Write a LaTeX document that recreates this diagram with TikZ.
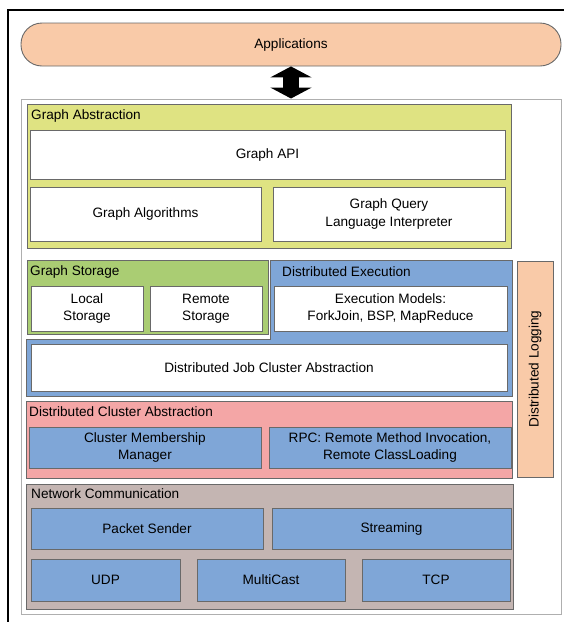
\documentclass[tikz,border=0pt]{standalone}
\usepackage{fontspec}
\setmainfont{Liberation Sans}
\usepackage{tikz}
\usetikzlibrary{arrows.meta}
\definecolor{line_gray}{RGB}{105,105,105}
\definecolor{frame_gray}{RGB}{175,175,175}
\definecolor{app_orange}{RGB}{249,202,168}
\definecolor{abs_yellow}{RGB}{223,227,130}
\definecolor{store_green}{RGB}{170,205,115}
\definecolor{exec_blue}{RGB}{127,166,215}
\definecolor{clus_red}{RGB}{244,166,166}
\definecolor{net_brown}{RGB}{196,181,178}

\begin{document}
\begin{tikzpicture}[x=1pt,y=-1pt,font=\fontsize{13.6}{17.5}\selectfont,
    wh/.style 2 args={minimum width=#1pt,minimum height=#2pt}]
    \tikzstyle{box}=[draw=line_gray, line width=0.9pt, rectangle, inner sep=0pt, align=center, text=black]
    \tikzstyle{wbox}=[style=box, fill=white]
    \tikzstyle{bbox}=[style=box, fill=exec_blue]
    \tikzstyle{layer}=[style=box]
    \tikzstyle{title}=[anchor=west, inner sep=0pt, text=black]
    \tikzstyle{dbl}=[line width=16pt, {Triangle[length=11pt,width=41pt]}-{Triangle[length=11pt,width=41pt]}]

    \useasboundingbox (0,0) rectangle (564,622);
    \draw[line width=2.5pt] (8,630) -- (8,10) -- (570,10);

    \node[box, fill=app_orange, rounded corners=21pt, wh={540}{43}] (app) at (291,44.5) {Applications};
    \node[draw=frame_gray, line width=1pt, wh={540}{515}] (outer) at (291,356.5) {};
    \draw[dbl] (app.south) -- (outer.north);

    % graph abstraction
    \node[layer, fill=abs_yellow, wh={484}{144}] (abs) at (269,176) {};
    \node[title] (t_abs) at (31,116) {Graph Abstraction};
    \node[wbox, wh={475}{49}] (api) at (267.5,154.5) {Graph API};
    \node[wbox, wh={231}{54}] (algo) at (145.5,214) {Graph Algorithms};
    \node[wbox, wh={232}{54}] (query) at (389,214) {Graph Query\\Language Interpreter};

    % storage and execution
    \node[layer, fill=store_green, wh={241}{74}] (store) at (147.5,297) {};
    \node[title] (t_store) at (30,272) {Graph Storage};
    \node[wbox, wh={112}{45}] (local) at (87,308.5) {Local\\Storage};
    \node[wbox, wh={112}{45}] (remote) at (206,308.5) {Remote\\Storage};
    \filldraw[draw=line_gray, line width=0.9pt, fill=exec_blue]
      (270,260) -- (512,260) -- (512,396) -- (26,396) -- (26,339) -- (270,339) -- cycle;
    \node[title] (t_exec) at (282,272) {Distributed Execution};
    \node[wbox, wh={233}{45}] (models) at (390.5,308.5) {Execution Models:\\ForkJoin, BSP, MapReduce};
    \node[wbox, wh={476}{47}] (job) at (269,367.5) {Distributed Job Cluster Abstraction};

    % cluster
    \node[layer, fill=clus_red, wh={486}{77}] (clus) at (269,439.5) {};
    \node[title] (t_clus) at (29,411.5) {Distributed Cluster Abstraction};
    \node[bbox, wh={232}{41}] (member) at (145,447.5) {Cluster Membership\\Manager};
    \node[bbox, wh={242}{41}] (rpc) at (390,447.5) {RPC: Remote Method Invocation,\\Remote ClassLoading};

    % network
    \node[layer, fill=net_brown, wh={487}{125}] (net) at (269.5,546.5) {};
    \node[title] (t_net) at (31,494) {Network Communication};
    \node[bbox, wh={232}{41}] (packet) at (147,528.5) {Packet Sender};
    \node[bbox, wh={239}{41}] (stream) at (391.5,528.5) {Streaming};
    \node[bbox, wh={149}{42}] (udp) at (105.5,580) {UDP};
    \node[bbox, wh={148}{42}] (multi) at (271,580) {MultiCast};
    \node[bbox, wh={148}{42}] (tcp) at (436,580) {TCP};

    % logging
    \node[layer, fill=app_orange, wh={36}{216}] (log) at (535,369) {};
    \node[rotate=90, inner sep=0pt] (t_log) at (log.center) {Distributed Logging};
\end{tikzpicture}
\end{document}
